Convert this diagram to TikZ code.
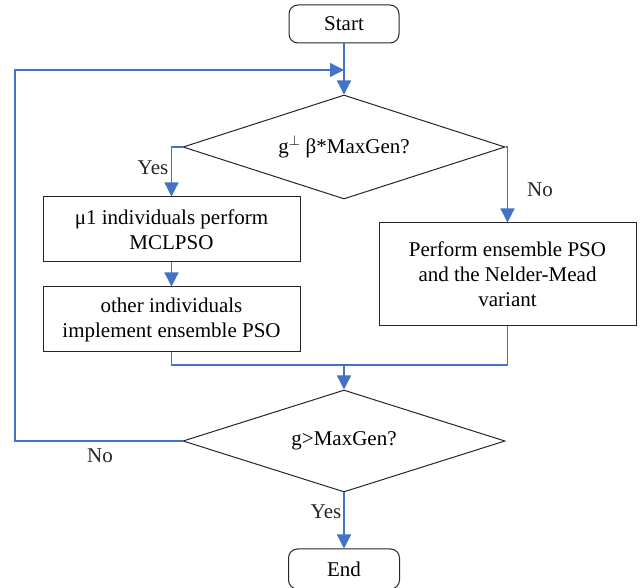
\documentclass[tikz,border=0pt]{standalone}
\usepackage{fontspec}
\setmainfont{Liberation Serif}
\usetikzlibrary{shapes.geometric,arrows.meta}
\definecolor{flowblue}{HTML}{4472C4}
\tikzset{
  box/.style={draw=black!85, line width=1pt, rectangle, inner sep=0pt, align=center, font=\fontsize{21}{25}\selectfont},
  term/.style={box, rounded corners=9pt},
  decision/.style={draw=black!85, line width=1pt, diamond, inner sep=0pt, font=\fontsize{21}{25}\selectfont},
  flow/.style={draw=flowblue, line width=1.3pt, -{Triangle[width=14pt,length=14pt]}},
  line/.style={draw=flowblue, line width=1.3pt},
  lbl/.style={font=\fontsize{21}{25}\selectfont, text=black!85}
}
\begin{document}
\begin{tikzpicture}[x=1pt,y=-1pt]
\useasboundingbox (0,0) rectangle (641,588);
\node[term, minimum width=110pt, minimum height=38pt] (start) at (344,24) {Start};
\node[decision, minimum width=322pt, minimum height=104pt, shape aspect=3.1] (d1) at (344,147) {g$^{\perp}$ β*MaxGen?};
\node[box, minimum width=257pt, minimum height=65pt] (b1) at (171.5,229.5) {μ1 individuals perform\\MCLPSO};
\node[box, minimum width=257pt, minimum height=65pt] (b2) at (171.5,319.5) {other individuals\\implement ensemble PSO};
\node[box, minimum width=257pt, minimum height=103pt] (b3) at (507.5,274.5) {Perform ensemble PSO\\and the Nelder-Mead\\variant};
\node[decision, minimum width=322pt, minimum height=102pt, shape aspect=3.15] (d2) at (344,441) {g>MaxGen?};
\node[term, minimum width=111pt, minimum height=40pt] (end) at (344,569) {End};
\coordinate (loopin) at (344,70);
\coordinate (merge) at (344,365);
\coordinate (loopL) at (15,70);

\draw[flow] (start.south) -- (d1.north);
\draw[flow] (d1.west) -| (b1.north);
\draw[flow] (d1.east) -| (b3.north);
\draw[flow] (b1.south) -- (b2.south |- b2.north);
\draw[line] (b2.south) |- (merge);
\draw[line] (b3.south) |- (merge);
\draw[flow] (merge) -- (d2.north);
\draw[flow] (d2.west) -| (loopL) -- (loopin);
\draw[flow] (d2.south) -- (end.north);
\node[lbl] (yes1) at (153,168) {Yes};
\node[lbl] (no1) at (540,190) {No};
\node[lbl] (no2) at (100,456) {No};
\node[lbl] (yes2) at (326,512) {Yes};
\end{tikzpicture}
\end{document}
